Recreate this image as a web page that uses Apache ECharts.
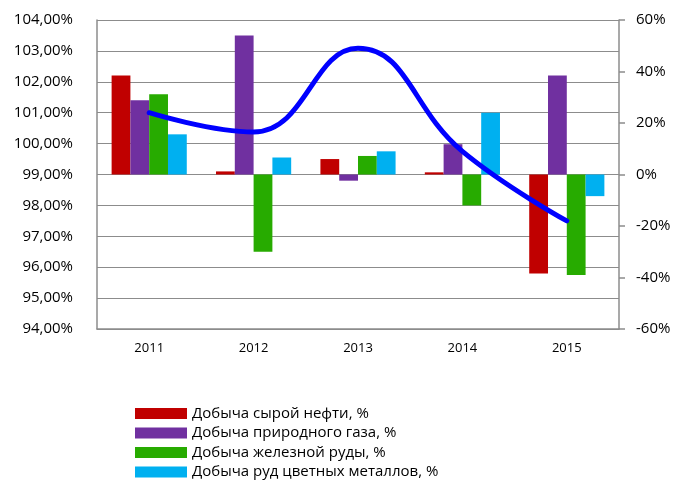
<!DOCTYPE html>
<html>
<head>
<meta charset="utf-8">
<script src="https://cdn.jsdelivr.net/npm/echarts@6/dist/echarts.min.js"></script>
<style>
  html, body { margin: 0; padding: 0; background: #fff; }
  #chart { width: 675px; height: 482px; }
</style>
</head>
<body>
<div id="chart"></div>
<script>
// годы
var years = ['2011', '2012', '2013', '2014', '2015'];
// индексы добычи, % (левая ось, база 99%)
var oil = [102.2, 99.1, 99.5, 99.07, 95.8];
var gas = [101.4, 103.5, 98.8, 99.98, 102.2];
var ironOre = [101.6, 96.5, 99.6, 98.0, 95.75];
var metalOre = [100.3, 99.55, 99.75, 101.0, 98.3];
// линия, правая ось, %
var lineValues = [24, 16.5, 49, 9, -18];
var seriesNames = [
  'Добыча сырой нефти, %',
  'Добыча природного газа, %',
  'Добыча железной руды, %',
  'Добыча руд цветных металлов, %'
];
var colors = ['#C00000', '#7030A0', '#27AB00', '#00B0F0'];
var base = 99;

var font = 'Open Sans, Noto Sans, sans-serif';

function barSeries(name, values, color) {
  return {
    name: name,
    type: 'bar',
    yAxisIndex: 2,
    barGap: '0%',
    barCategoryGap: '28%',
    itemStyle: { color: color },
    data: values.map(function (v) { return +(v - base).toFixed(3); })
  };
}

var chart = echarts.init(document.getElementById('chart'));
chart.setOption({
  animation: false,
  textStyle: { fontFamily: font },
  grid: { left: 97, right: 56, top: 20, bottom: 153 },
  legend: {
    data: seriesNames,
    orient: 'vertical',
    left: 135,
    top: 406,
    width: 450,
    height: 150,
    padding: 0,
    itemWidth: 52,
    itemHeight: 11,
    itemGap: 4.5,
    icon: 'rect',
    textStyle: { fontSize: 15, lineHeight: 15, color: '#000', fontFamily: font }
  },
  xAxis: {
    type: 'category',
    data: years,
    axisLine: { onZero: false, lineStyle: { color: '#8c8c8c', width: 1.5 } },
    axisTick: { show: false },
    axisLabel: { fontSize: 13, color: '#000', margin: 13 }
  },
  yAxis: [
    {
      type: 'value',
      position: 'left',
      min: 94,
      max: 104,
      interval: 1,
      axisLine: { show: true, lineStyle: { color: '#8c8c8c', width: 1.5 } },
      axisTick: { show: false },
      splitLine: { lineStyle: { color: '#8c8c8c', width: 1 } },
      axisLabel: {
        fontSize: 15,
        color: '#000',
        margin: 24,
        formatter: function (v) { return v.toFixed(2).replace('.', ',') + '%'; }
      }
    },
    {
      type: 'value',
      position: 'right',
      min: -60,
      max: 60,
      interval: 20,
      axisLine: { show: true, lineStyle: { color: '#8c8c8c', width: 1.5 } },
      axisTick: { show: true, length: 6, lineStyle: { color: '#8c8c8c', width: 1.5 } },
      splitLine: { show: false },
      axisLabel: {
        fontSize: 15,
        color: '#000',
        margin: 17,
        formatter: function (v) { return v + '%'; }
      }
    },
    {
      type: 'value',
      show: false,
      min: -5,
      max: 5,
      splitLine: { show: false }
    }
  ],
  series: [
    barSeries(seriesNames[0], oil, colors[0]),
    barSeries(seriesNames[1], gas, colors[1]),
    barSeries(seriesNames[2], ironOre, colors[2]),
    barSeries(seriesNames[3], metalOre, colors[3]),
    {
      name: 'line',
      type: 'line',
      yAxisIndex: 1,
      smooth: 0.45,
      symbol: 'none',
      lineStyle: { color: '#0000FF', width: 5, cap: 'round' },
      data: lineValues,
      z: 5
    }
  ]
});
</script>
</body>
</html>
